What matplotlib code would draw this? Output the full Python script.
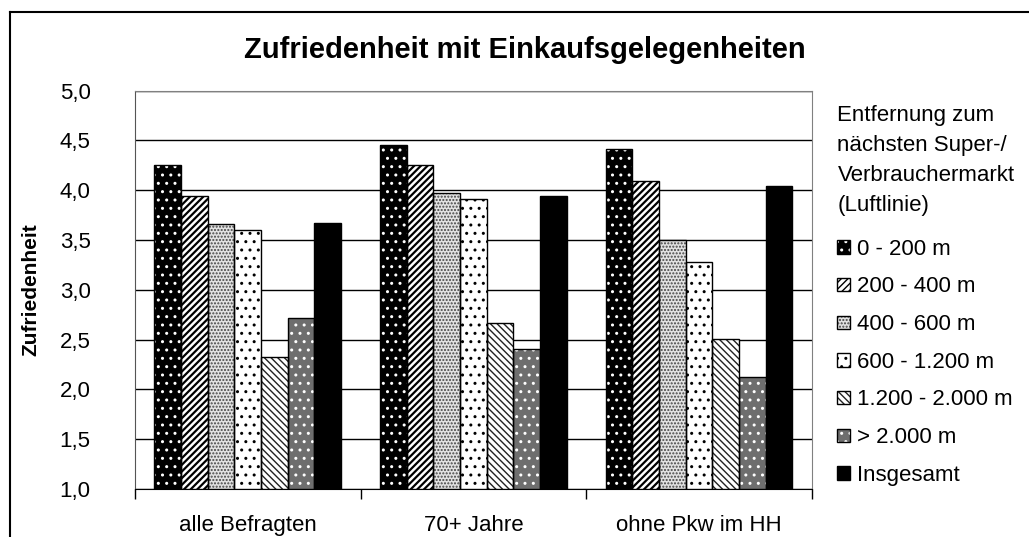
import matplotlib.pyplot as plt
from matplotlib.lines import Line2D
import numpy as np

plt.rcParams['font.family'] = ['Liberation Sans', 'DejaVu Sans']

# Daten
gruppen = ['alle Befragten', '70+ Jahre', 'ohne Pkw im HH']
klassen = ['0 - 200 m', '200 - 400 m', '400 - 600 m', '600 - 1.200 m',
           '1.200 - 2.000 m', '> 2.000 m', 'Insgesamt']
werte_0_200 = [4.25, 4.45, 4.41]
werte_200_400 = [3.94, 4.25, 4.09]
werte_400_600 = [3.66, 3.97, 3.50]
werte_600_1200 = [3.60, 3.91, 3.28]
werte_1200_2000 = [2.33, 2.67, 2.51]
werte_2000 = [2.72, 2.41, 2.12]
werte_gesamt = [3.67, 3.94, 4.04]
yticks = [1.0, 1.5, 2.0, 2.5, 3.0, 3.5, 4.0, 4.5, 5.0]

serien = [werte_0_200, werte_200_400, werte_400_600, werte_600_1200,
          werte_1200_2000, werte_2000, werte_gesamt]
# (Fuellfarbe, Schraffur, Schraffurfarbe, Linienbreite der Schraffur)
muster = [('black', '..', 'white', 1.0),
          ('white', '/////', 'black', 1.6),
          ('#e2e2e2', '.....', '#444444', 1.0),
          ('white', '..', 'black', 1.0),
          ('white', '\\\\\\\\\\', '#222222', 1.0),
          ('#6e6e6e', '..', 'white', 1.0),
          ('black', None, 'black', 1.0)]

fig = plt.figure(figsize=(10.29, 5.37), dpi=100)
ax = fig.add_axes([135/1029, 48/537, (811.7-135)/1029, (489-90.7)/537])

x = np.arange(len(gruppen))
breite = 0.1182
handles = []
for i, (werte, (fc, hatch, hc, hlw)) in enumerate(zip(serien, muster)):
    pos = x + (i - 3) * breite
    plt.rcParams['hatch.linewidth'] = hlw
    b1 = ax.bar(pos, [w - 1.0 for w in werte], breite, bottom=1.0, color=fc,
                edgecolor=hc, hatch=hatch, linewidth=0, zorder=3)
    b2 = ax.bar(pos, [w - 1.0 for w in werte], breite, bottom=1.0, fill=False,
                edgecolor='black', linewidth=1.0, zorder=4)
    handles.append((b1[0], b2[0]))

ax.set_xlim(-0.5, 2.5)
ax.set_ylim(1.0, 5.0)
ax.set_yticks(yticks)
ax.set_yticklabels([f'{t:.1f}'.replace('.', ',') for t in yticks], fontsize=16)
ax.tick_params(axis='y', length=0, pad=32)
ax.set_xticks([-0.5, 0.5, 1.5, 2.5], minor=False)
ax.set_xticklabels([])
ax.set_xticks(x, minor=True)
ax.set_xticklabels(gruppen, minor=True, fontsize=16)
ax.tick_params(axis='x', which='major', direction='out', length=7, width=1, color='black')
ax.tick_params(axis='x', which='minor', length=0, pad=19)
ax.yaxis.grid(True, color='black', linewidth=1.0, zorder=0)
ax.set_axisbelow(True)
for s in ['top', 'right']:
    ax.spines[s].set_color('#808080')
ax.spines['bottom'].set_color('black')
ax.spines['left'].set_color('#555555')

ax.set_ylabel('Zufriedenheit', fontsize=15, fontweight='bold')
ax.yaxis.set_label_coords(-95/676.7, 0.5)

fig.text(525/1029, 1 - 50/537, 'Zufriedenheit mit Einkaufsgelegenheiten',
         ha='center', va='center', fontsize=21, fontweight='bold')

leg = fig.legend(handles, klassen, loc='upper left',
                 bbox_to_anchor=(823/1029, 1 - 91/537),
                 title='Entfernung zum\nnächsten Super-/\nVerbrauchermarkt\n(Luftlinie)',
                 frameon=False, fontsize=16, title_fontsize=16,
                 handlelength=0.55, handleheight=0.55, handletextpad=0.35,
                 labelspacing=0.75, alignment='left', borderaxespad=0,
                 borderpad=0.65)
leg.get_title().set_linespacing(1.55)
leg._legend_box.sep = 16.5  # etwas mehr Abstand zwischen Titel und Eintraegen

# Rahmen (links und oben)
fig.add_artist(Line2D([10/1029, 10/1029], [0, 1 - 12/537], color='black', linewidth=1.5,
                      transform=fig.transFigure))
fig.add_artist(Line2D([10/1029, 1], [1 - 12/537, 1 - 12/537], color='black', linewidth=1.5,
                      transform=fig.transFigure))

fig.savefig('out.png', dpi=100)
